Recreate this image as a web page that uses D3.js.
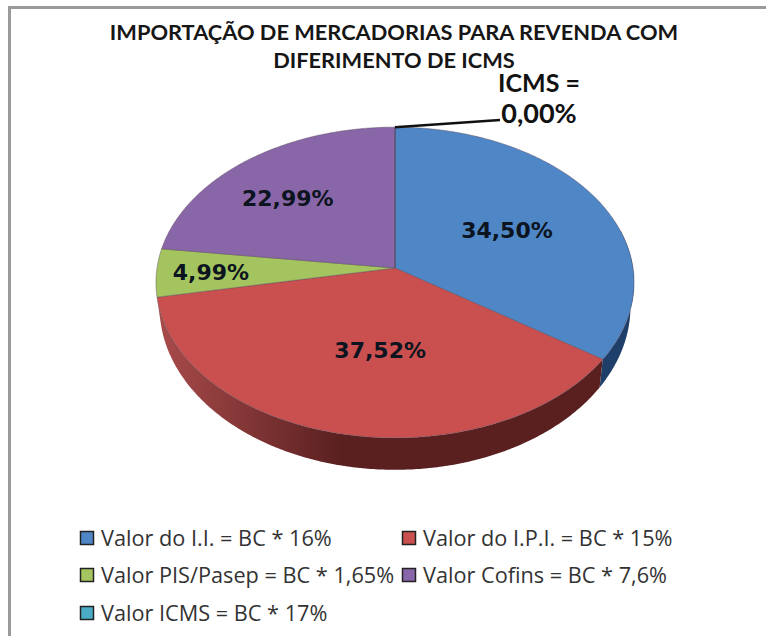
<!DOCTYPE html>
<html>
<head>
<meta charset="utf-8">
<style>
  html, body { margin: 0; padding: 0; background: #fff; }
  svg { display: block; }
  .title { font-family: Lato, sans-serif; font-weight: 700; font-size: 21.8px; fill: #161616; }
  .callout { font-family: Lato, sans-serif; font-weight: 700; font-size: 25px; fill: #111; }
  .pct { font-family: "DejaVu Sans", sans-serif; font-weight: 700; font-size: 22px; fill: #0c1420; }
  .legend { font-family: "Open Sans", sans-serif; font-size: 21.7px; fill: #333; }
</style>
</head>
<body>
<div id="chart-container"></div>
<script src="https://cdn.jsdelivr.net/npm/d3@7"></script>
<script>
(function() {
'use strict';

const names = ['Valor do I.I. = BC * 16%', 'Valor do I.P.I. = BC * 15%', 'Valor PIS/Pasep = BC * 1,65%', 'Valor Cofins = BC * 7,6%', 'Valor ICMS = BC * 17%'];
const values = [34.50, 37.52, 4.99, 22.99, 0.00];
const labels = ['34,50%', '37,52%', '4,99%', '22,99%'];
const faceColors = ['#4f86c6', '#c9504f', '#a3c45e', '#8866a8', '#4bacc6'];
const titleLines = ['IMPORTAÇÃO DE MERCADORIAS PARA REVENDA COM', 'DIFERIMENTO DE ICMS'];

const W = 766;
const H = 636;

// pie plane, the tilt is a small perspective so the hub sits above the ellipse middle
const CX = 395;
const CY = 268;
const RX = 238;
const RY = 154;
const PERSP = -0.0932;
const DEPTH = 23.5;
const BOTTOM_X = 0.985;
const BOTTOM_Y = 1.05;

function project(angle, r) {
  const u = Math.sin(angle) * r;
  const v = -Math.cos(angle) * r;
  const d = 1 + PERSP * v;
  return [CX + RX * u / d, CY + RY * v / d];
}

function projectBottom(angle) {
  const p = project(angle, 1);
  return [CX + (p[0] - CX) * BOTTOM_X, CY + DEPTH + (p[1] - CY) * BOTTOM_Y];
}

function rimAngles(a0, a1) {
  const n = Math.max(2, Math.ceil((a1 - a0) / 0.01));
  return d3.range(n + 1).map(i => a0 + (a1 - a0) * i / n);
}

const line = d3.line();

const svg = d3.select('#chart-container')
  .append('svg')
    .attr('width', W)
    .attr('height', H);

// frame, only top and left edges are in the crop
svg.append('rect').attr('x', 8).attr('y', 6).attr('width', W - 8).attr('height', 3).attr('fill', '#9a9a9a');
svg.append('rect').attr('x', 8).attr('y', 6).attr('width', 3).attr('height', H - 6).attr('fill', '#9a9a9a');

svg.selectAll('.title')
  .data(titleLines)
  .enter()
  .append('text')
    .attr('class', 'title')
    .attr('x', 394)
    .attr('y', (d, i) => 40 + i * 28)
    .attr('text-anchor', 'middle')
    .text(d => d);

const slices = d3.pie().sort(null).value(d => d)(values);

const defs = svg.append('defs');
const sideStops = [
  ['side-0', '#16345c', '#1f3f6b'],
  ['side-1', '#a84a4a', '#5a2020']
];
sideStops.forEach(s => {
  const g = defs.append('linearGradient')
    .attr('id', s[0])
    .attr('gradientUnits', 'userSpaceOnUse')
    .attr('x1', 160).attr('x2', 340).attr('y1', 0).attr('y2', 0);
  g.append('stop').attr('offset', 0).attr('stop-color', s[1]);
  g.append('stop').attr('offset', 1).attr('stop-color', s[2]);
});

// side wall, only the two slices that reach the front rim
const sides = svg.append('g');
slices.slice(0, 2).forEach((s, i) => {
  const a0 = Math.max(s.startAngle, Math.PI * 0.42);
  const a1 = Math.min(s.endAngle, Math.PI * 1.56);
  const angles = rimAngles(a0, a1);
  const outline = angles.map(a => project(a, 1))
    .concat(angles.slice().reverse().map(projectBottom));
  sides.append('path')
    .attr('d', line(outline) + 'Z')
    .attr('fill', `url(#side-${i})`);
});

// top face
svg.append('g')
  .selectAll('path')
  .data(slices)
  .enter()
  .append('path')
    .attr('d', d => line([project(0, 0)].concat(rimAngles(d.startAngle, d.endAngle).map(a => project(a, 1)))) + 'Z')
    .attr('fill', (d, i) => faceColors[i])
    .attr('stroke', '#5a4a5a')
    .attr('stroke-opacity', 0.45)
    .attr('stroke-width', 1);

// slice labels start at the middle of each slice, nudged to where the reference has them
const labelRadius = [0.62, 0.62, 0.68, 0.66];
const labelNudge = [[-15, 6], [17, -17], [-22, 1], [-8, 3]];
function labelPos(i) {
  const p = project((slices[i].startAngle + slices[i].endAngle) / 2, labelRadius[i]);
  return [p[0] + labelNudge[i][0], p[1] + labelNudge[i][1] + 8];
}
svg.append('g')
  .selectAll('text')
  .data(labels)
  .enter()
  .append('text')
    .attr('class', 'pct')
    .attr('text-anchor', 'middle')
    .attr('x', (d, i) => labelPos(i)[0])
    .attr('y', (d, i) => labelPos(i)[1])
    .text(d => d);

// zero slice callout
const rimTop = project(slices[4].startAngle, 1);
svg.append('path')
  .attr('d', line([rimTop, [500, 120]]))
  .attr('fill', 'none')
  .attr('stroke', '#111')
  .attr('stroke-width', 2.5);
svg.append('text').attr('class', 'callout').attr('x', 539).attr('y', 92).attr('text-anchor', 'middle').text('ICMS =');
svg.append('text').attr('class', 'callout').attr('x', 539).attr('y', 123).attr('text-anchor', 'middle').style('font-size', '27px').text('0,00%');

// legend
const legendCols = [77, 399];
const legendRows = [538, 575, 613];
const legendPos = [[0, 0], [1, 0], [0, 1], [1, 1], [0, 2]];
const legend = svg.append('g')
  .selectAll('g')
  .data(names)
  .enter()
  .append('g')
    .attr('transform', (d, i) => `translate(${legendCols[legendPos[i][0]]}, ${legendRows[legendPos[i][1]]})`);
legend.append('rect')
  .attr('x', 3.5)
  .attr('y', -6.5)
  .attr('width', 13)
  .attr('height', 13)
  .attr('fill', (d, i) => faceColors[i])
  .attr('stroke', '#222')
  .attr('stroke-width', 1.5);
legend.append('text')
  .attr('class', 'legend')
  .attr('x', 24)
  .attr('y', 8)
  .text(d => d);

})()
</script>
</body>
</html>
